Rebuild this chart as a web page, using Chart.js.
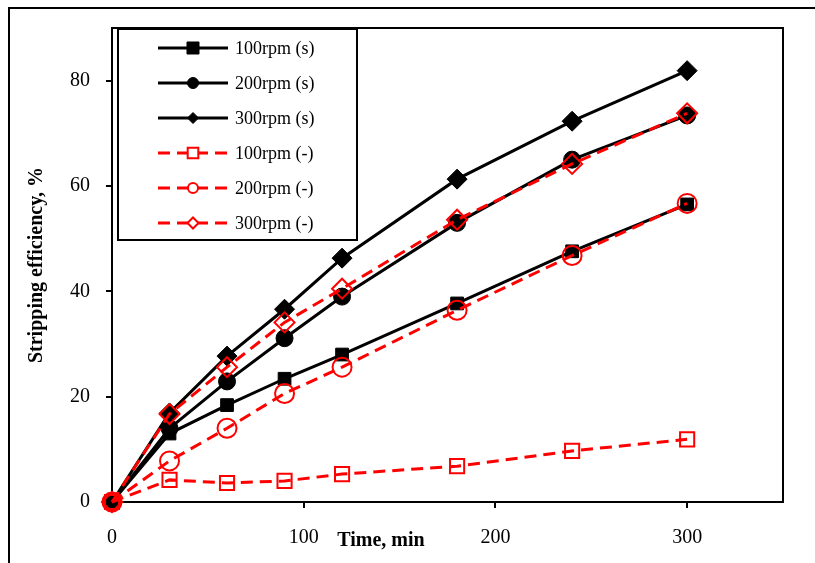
<!DOCTYPE html>
<html>
<head>
<meta charset="utf-8">
<script src="https://cdn.jsdelivr.net/npm/chart.js@4/dist/chart.umd.min.js"></script>
<style>
  html, body { margin: 0; padding: 0; background: #fff; }
  #wrap { width: 815px; height: 563px; }
</style>
</head>
<body>
<div id="wrap"><canvas id="chart" width="815" height="563"></canvas></div>
<script>
// Data
const times = [0, 30, 60, 90, 120, 180, 240, 300];
const s100 = [0, 13.0, 18.4, 23.4, 28.0, 37.7, 47.6, 56.5];
const s200 = [0, 14.0, 22.9, 31.1, 39.0, 53.0, 65.0, 73.4];
const s300 = [0, 16.9, 27.7, 36.6, 46.3, 61.3, 72.3, 81.9];
const n100 = [0, 4.2, 3.6, 4.0, 5.3, 6.8, 9.7, 11.9];
const n200 = [0, 7.8, 14.0, 20.6, 25.6, 36.4, 46.8, 56.7];
const n300 = [0, 16.7, 25.6, 34.1, 40.5, 53.6, 64.2, 73.8];
const seriesNames = ['100rpm (s)', '200rpm (s)', '300rpm (s)', '100rpm (-)', '200rpm (-)', '300rpm (-)'];
const xTicks = [0, 100, 200, 300];
const yTicks = [0, 20, 40, 60, 80];

const FONT = "'Liberation Serif', 'Times New Roman', serif";
const RED = '#ff0000';

const pts = vals => vals.map((v, i) => ({ x: times[i], y: v }));

function solid(label, vals, style, radius, legendRadius) {
    return {
        label: label, data: pts(vals), clip: false,
        borderColor: '#000', borderWidth: 3,
        pointStyle: style, pointRadius: radius, legendRadius: legendRadius,
        pointBackgroundColor: '#000', pointBorderColor: '#000', pointBorderWidth: 1,
        order: 1
    };
}
function dashed(label, vals, style, radius, legendRadius) {
    return {
        label: label, data: pts(vals), clip: false,
        borderColor: RED, borderWidth: 3, borderDash: [12, 7],
        pointStyle: style, pointRadius: radius, legendRadius: legendRadius,
        pointBackgroundColor: 'rgba(0,0,0,0)', pointBorderColor: RED, pointBorderWidth: 2,
        order: 0
    };
}

const datasets = [
    solid(seriesNames[0], s100, 'rect', 9, 8.5),
    solid(seriesNames[1], s200, 'circle', 8.5, 5.5),
    solid(seriesNames[2], s300, 'rectRot', 10, 5.5),
    dashed(seriesNames[3], n100, 'rect', 10, 7.5),
    dashed(seriesNames[4], n200, 'circle', 9.5, 5),
    dashed(seriesNames[5], n300, 'rectRot', 10, 5.5)
];

// frame, titles and legend box
const decor = {
    id: 'decor',
    beforeDraw(chart) {
        const c = chart.ctx;
        c.save();
        c.fillStyle = '#fff';
        c.fillRect(0, 0, chart.width, chart.height);
        c.strokeStyle = '#000';
        c.lineWidth = 2;
        c.beginPath();
        c.moveTo(815, 8);
        c.lineTo(9, 8);
        c.lineTo(9, 563);
        c.stroke();
        c.restore();
    },
    beforeDatasetsDraw(chart) {
        const c = chart.ctx;
        const a = chart.chartArea;
        c.save();
        c.strokeStyle = '#000';
        c.lineWidth = 2;
        c.strokeRect(a.left, a.top, a.right - a.left, a.bottom - a.top);
        c.restore();
    },
    afterDraw(chart) {
        const c = chart.ctx;
        const a = chart.chartArea;
        c.save();

        // axis titles
        c.fillStyle = '#000';
        c.font = 'bold 20px ' + FONT;
        c.textAlign = 'center';
        c.textBaseline = 'middle';
        c.fillText('Time, min', 381, 541);
        c.save();
        c.translate(37, (a.top + a.bottom) / 2);
        c.rotate(-Math.PI / 2);
        c.fillText('Stripping efficiency, %', 0, 0);
        c.restore();

        // legend
        const bx = 118, by = 29, bw = 239, bh = 211;
        c.fillStyle = '#fff';
        c.fillRect(bx, by, bw, bh);
        c.strokeStyle = '#000';
        c.lineWidth = 2;
        c.strokeRect(bx, by, bw, bh);
        chart.data.datasets.forEach((ds, i) => {
            const y = 48 + i * 35;
            c.save();
            c.strokeStyle = ds.borderColor;
            c.lineWidth = ds.borderWidth;
            c.setLineDash(ds.borderDash || []);
            c.beginPath();
            c.moveTo(158, y);
            c.lineTo(228, y);
            c.stroke();
            c.restore();
            c.save();
            c.fillStyle = ds.borderDash ? '#fff' : ds.pointBackgroundColor;
            c.strokeStyle = ds.pointBorderColor;
            c.lineWidth = ds.pointBorderWidth;
            Chart.helpers.drawPoint(c, {
                pointStyle: ds.pointStyle, radius: ds.legendRadius, borderWidth: ds.pointBorderWidth
            }, 193, y);
            c.restore();
            c.fillStyle = '#000';
            c.font = '18px ' + FONT;
            c.textAlign = 'left';
            c.fillText(ds.label, 235, y + 1);
        });
        c.restore();
    }
};

const ctx = document.getElementById('chart').getContext('2d');
new Chart(ctx, {
    type: 'line',
    data: { datasets: datasets },
    options: {
        responsive: false,
        animation: false,
        events: [],
        layout: { padding: { left: 0, top: 25, right: 32, bottom: 0 } },
        plugins: { legend: { display: false }, tooltip: { enabled: false } },
        scales: {
            x: {
                type: 'linear', min: 0, max: 350,
                afterBuildTicks: s => { s.ticks = xTicks.map(v => ({ value: v })); },
                afterFit: s => { s.height = 61; },
                grid: { drawOnChartArea: false, drawTicks: true, tickLength: 6, color: '#000', lineWidth: 2 },
                border: { display: true, color: '#000', width: 2 },
                ticks: { color: '#000', font: { family: FONT, size: 20 }, padding: 18, maxRotation: 0 }
            },
            y: {
                min: 0, max: 90,
                afterBuildTicks: s => { s.ticks = yTicks.map(v => ({ value: v })); },
                afterFit: s => { s.width = 112; },
                grid: { drawOnChartArea: false, drawTicks: true, tickLength: 6, color: '#000', lineWidth: 2 },
                border: { display: true, color: '#000', width: 2 },
                ticks: { color: '#000', font: { family: FONT, size: 20 }, padding: 16 }
            }
        }
    },
    plugins: [decor]
});
</script>
</body>
</html>
